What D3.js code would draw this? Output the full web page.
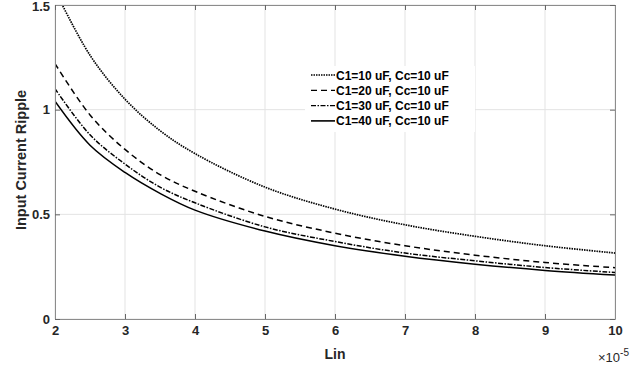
<!DOCTYPE html>
<html>
<head>
<meta charset="utf-8">
<script src="https://cdn.jsdelivr.net/npm/d3@7"></script>
<style>
  body { margin: 0; background: #fff; }
  svg { font-family: "Liberation Sans", Arial, sans-serif; font-weight: bold; }
</style>
</head>
<body>
<div id="chart"></div>
<script>
// x values (units of 1e-5)
var lin = [2, 2.5, 3, 3.5, 4, 5, 6, 7, 8, 9, 10];
var c10 = [1.57, 1.26, 1.05, 0.90, 0.79, 0.63, 0.525, 0.45, 0.395, 0.35, 0.315];
var c20 = [1.22, 0.975, 0.81, 0.69, 0.61, 0.49, 0.41, 0.35, 0.305, 0.27, 0.245];
var c30 = [1.10, 0.88, 0.74, 0.63, 0.555, 0.44, 0.37, 0.315, 0.278, 0.246, 0.222];
var c40 = [1.04, 0.83, 0.70, 0.60, 0.52, 0.42, 0.35, 0.30, 0.262, 0.232, 0.21];
var names = ["C1=10 uF, Cc=10 uF", "C1=20 uF, Cc=10 uF", "C1=30 uF, Cc=10 uF", "C1=40 uF, Cc=10 uF"];
var xTicks = [2, 3, 4, 5, 6, 7, 8, 9, 10];
var yTicks = [0, 0.5, 1, 1.5];

var width = 644, height = 371;
var margin = {left: 55, right: 29, top: 5, bottom: 52};
var w = width - margin.left - margin.right;
var h = height - margin.top - margin.bottom;

var dashes = ["1.5,1", "6,4", "5,1.5,1.5,1.5", null];
var series = [c10, c20, c30, c40];

var x = d3.scaleLinear().domain([2, 10]).range([0, w]);
var y = d3.scaleLinear().domain([0, 1.5]).range([h, 0]);

var svg = d3.select("#chart").append("svg")
  .attr("width", width).attr("height", height);

svg.append("defs").append("clipPath").attr("id", "clip")
  .append("rect").attr("width", w).attr("height", h);

var g = svg.append("g").attr("transform", "translate(" + margin.left + "," + margin.top + ")");

// grid
g.selectAll(".gx").data(xTicks).enter().append("line")
  .attr("x1", d => x(d)).attr("x2", d => x(d)).attr("y1", 0).attr("y2", h)
  .attr("stroke", "#e3e3e3").attr("stroke-width", 1);
g.selectAll(".gy").data(yTicks).enter().append("line")
  .attr("x1", 0).attr("x2", w).attr("y1", d => y(d)).attr("y2", d => y(d))
  .attr("stroke", "#e3e3e3").attr("stroke-width", 1);

var line = d3.line()
  .x((d, i) => x(lin[i]))
  .y(d => y(d))
  .curve(d3.curveCatmullRom);

var plot = g.append("g").attr("clip-path", "url(#clip)");
series.forEach(function(s, i) {
  plot.append("path")
    .attr("d", line(s))
    .attr("fill", "none")
    .attr("stroke", "#000")
    .attr("stroke-width", i == 0 ? 1.7 : 1.5)
    .attr("stroke-dasharray", dashes[i]);
});

// axes (box)
var axisColor = "#262626";
var xAxis = d3.axisBottom(x).tickValues(xTicks).tickSizeInner(-5).tickSizeOuter(0).tickPadding(7).tickFormat(d3.format("d"));
var yAxis = d3.axisLeft(y).tickValues(yTicks).tickSizeInner(-5).tickSizeOuter(0).tickPadding(5).tickFormat(d => d);

var gx = g.append("g").attr("transform", "translate(0," + h + ")").call(xAxis);
var gy = g.append("g").call(yAxis);
var gxt = g.append("g").call(d3.axisTop(x).tickValues(xTicks).tickSizeInner(-5).tickSizeOuter(0).tickFormat(""));
var gyr = g.append("g").attr("transform", "translate(" + w + ",0)")
  .call(d3.axisRight(y).tickValues(yTicks).tickSizeInner(-5).tickSizeOuter(0).tickFormat(""));

[gx, gy, gxt, gyr].forEach(function(a) {
  a.select(".domain").attr("stroke", "#8c8c8c").attr("stroke-width", 1);
  a.selectAll(".tick line").attr("stroke", "#666");
  a.selectAll("text").attr("fill", axisColor).style("font-size", "13px").style("font-weight", "bold")
    .style("font-family", "Liberation Sans, Arial, sans-serif");
});
gy.selectAll(".tick").filter(d => d == 1.5).select("text").attr("dy", "0.4em");

// labels
g.append("text").attr("x", w / 2).attr("y", h + 40)
  .attr("text-anchor", "middle").attr("fill", axisColor).style("font-size", "14px").text("Lin");

var ex = g.append("text").attr("x", w - 17).attr("y", h + 43)
  .attr("fill", axisColor).style("font-size", "13px");
ex.append("tspan").style("font-weight", "normal").text("\u00d7");
ex.append("tspan").style("font-weight", "normal").text("10");
ex.append("tspan").attr("dy", -6).style("font-size", "10px").style("font-weight", "normal").text("-5");

svg.append("text")
  .attr("transform", "translate(26," + (margin.top + h / 2 - 2) + ") rotate(-90)")
  .attr("text-anchor", "middle").attr("fill", axisColor).style("font-size", "14.5px")
  .text("Input Current Ripple");

// legend
var lg = g.append("g").attr("transform", "translate(" + (x(5.6) - 2) + ",61)");
lg.append("rect").attr("x", 0).attr("y", 0).attr("width", 170).attr("height", 66)
  .attr("fill", "#fff");
names.forEach(function(n, i) {
  var yy = 9 + i * 15.3;
  lg.append("line").attr("x1", 6).attr("x2", 30).attr("y1", yy).attr("y2", yy)
    .attr("stroke", "#000").attr("stroke-width", i == 3 ? 1.6 : 1.3)
    .attr("stroke-dasharray", dashes[i]);
  lg.append("text").attr("x", 31).attr("y", yy + 4.5)
    .attr("fill", "#000").style("font-size", "12px").text(n);
});
</script>
</body>
</html>
